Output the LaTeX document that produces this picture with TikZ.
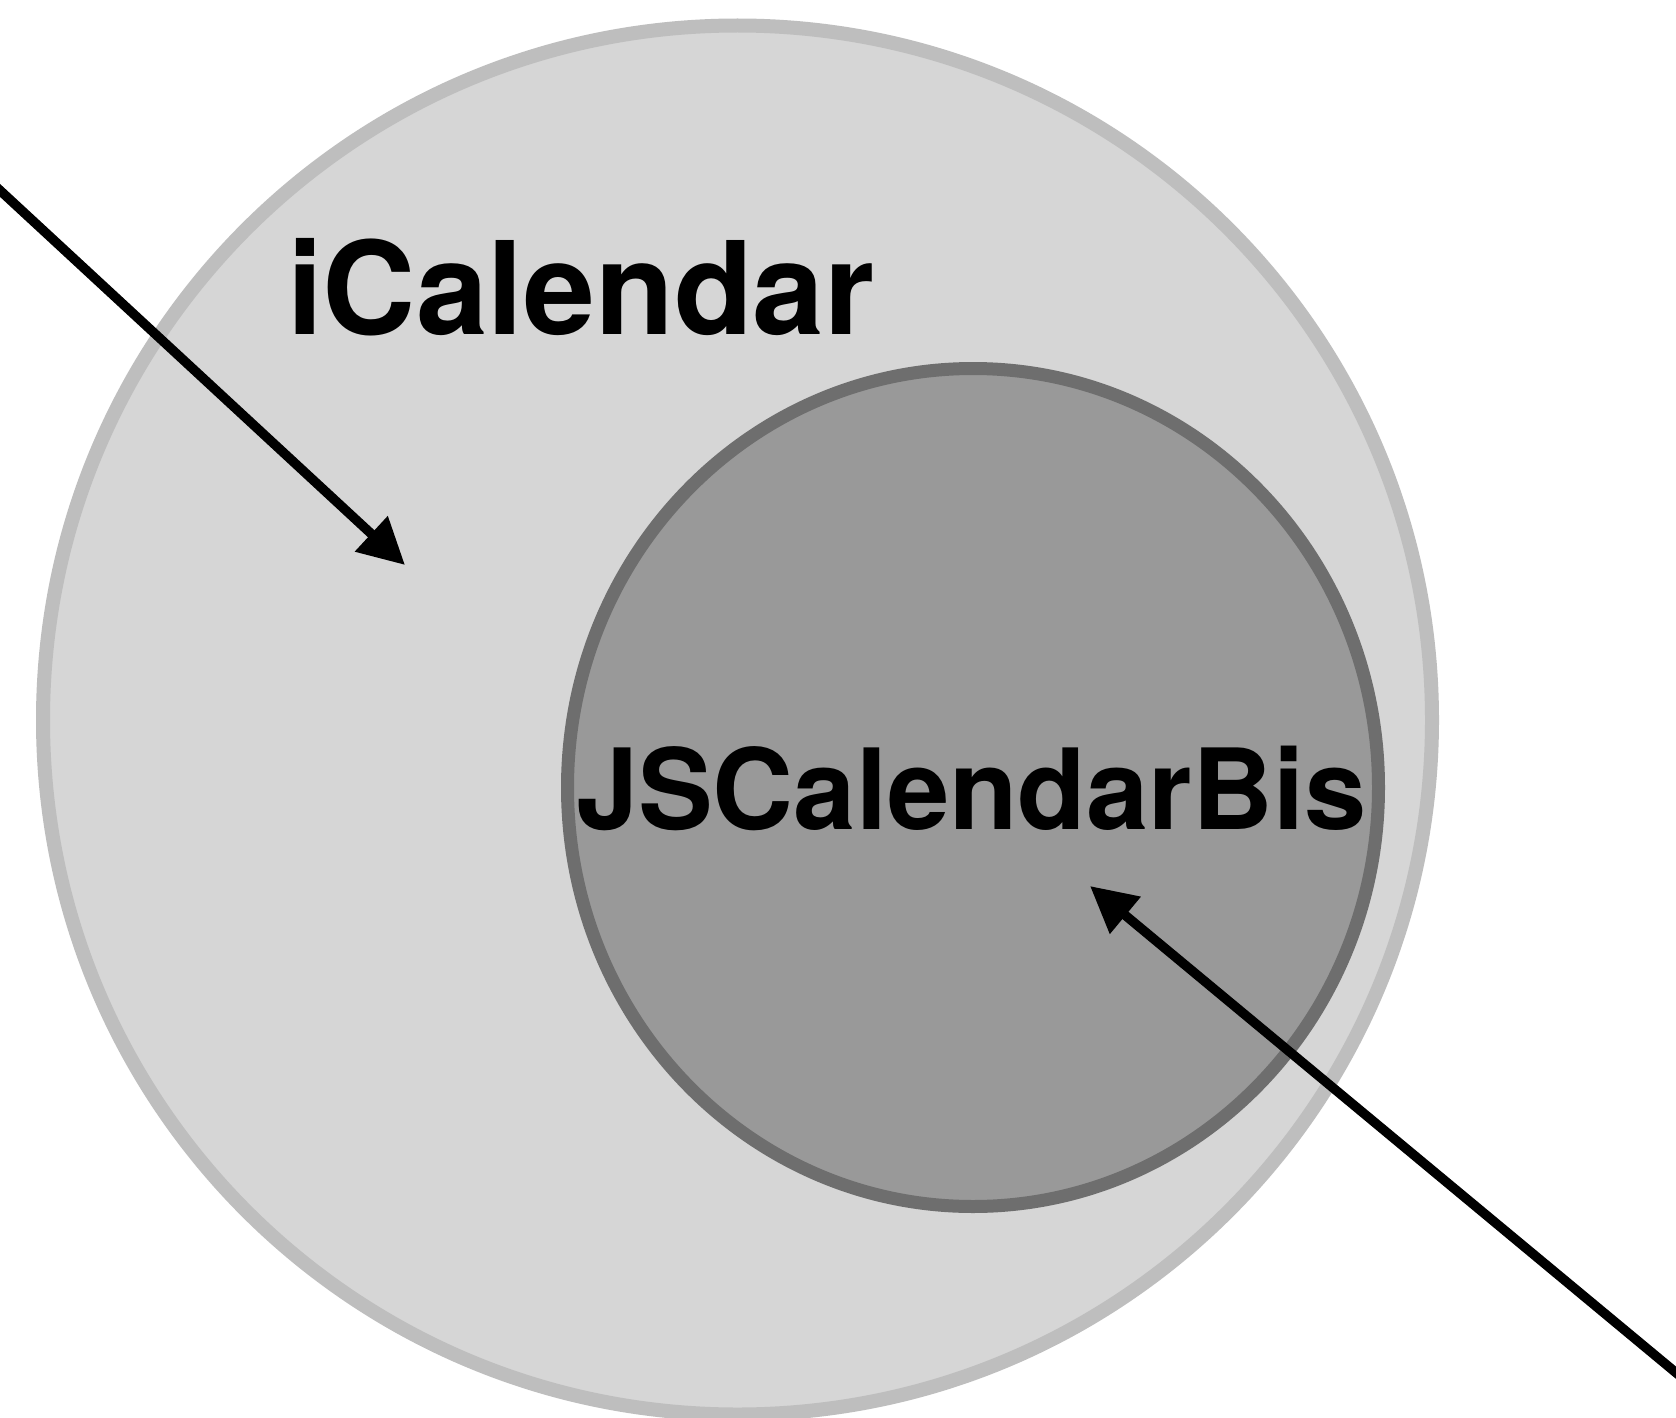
\documentclass[tikz,border=0pt]{standalone}
\usepackage{fontspec}
\setmainfont{TeX Gyre Heros}
\usetikzlibrary{arrows.meta,shapes.geometric}
\definecolor{outerfill}{HTML}{D6D6D6}
\definecolor{outerline}{HTML}{BEBEBE}
\definecolor{innerfill}{HTML}{999999}
\definecolor{innerline}{HTML}{6E6E6E}
\tikzset{
  outerset/.style={circle, draw=outerline, fill=outerfill, line width=14pt, minimum size=1389pt, inner sep=0pt},
  innerset/.style={ellipse, draw=innerline, fill=innerfill, line width=13pt, minimum width=811pt, minimum height=838pt, inner sep=0pt},
  biglabel/.style={anchor=base west, inner sep=0pt, outer sep=0pt, font=\fontsize{#1}{#1}\selectfont\bfseries, text=black},
  pointer/.style={line width=9.5pt, -{Triangle[length=46pt,width=46pt]}, black}
}
\begin{document}
\begin{tikzpicture}[x=1pt,y=-1pt]
\useasboundingbox[fill=white] (0,0) rectangle (1676,1418);
\node[outerset] (outer) at (737.5,720) {};
\node[biglabel=129] (ical) at (287,334) {iCalendar};
\node[innerset] (inner) at (973,787.5) {};
\node[biglabel=112] (jscal) at (576,829) {JSCalendarBis};
\coordinate (a1s) at (-8,183);
\coordinate (a1e) at (405,565);
\coordinate (a2s) at (1686,1381);
\coordinate (a2e) at (1090,886);
\draw[pointer] (a1s) -- (a1e);
\draw[pointer] (a2s) -- (a2e);
\end{tikzpicture}
\end{document}
